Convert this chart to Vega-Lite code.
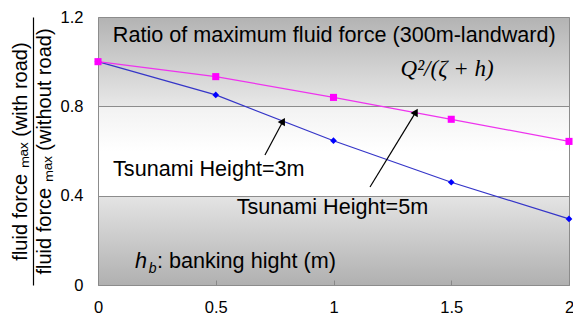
{
  "$schema": "https://vega.github.io/schema/vega-lite/v6.json",
  "width": 471,
  "height": 268,
  "autosize": {"type": "none"},
  "padding": {"left": 98, "top": 17, "right": 4, "bottom": 37},
  "background": "white",
  "config": {
    "font": "Liberation Sans",
    "view": {
      "stroke": "#8c8c8c",
      "strokeWidth": 1,
      "fill": {
        "gradient": "linear", "x1": 0, "y1": 0, "x2": 0, "y2": 1,
        "stops": [
          {"offset": 0, "color": "#b3b3b3"},
          {"offset": 0.333, "color": "#e8e8e8"},
          {"offset": 0.334, "color": "#f2f2f2"},
          {"offset": 0.5, "color": "#ffffff"},
          {"offset": 0.666, "color": "#ffffff"},
          {"offset": 0.667, "color": "#e4e4e4"},
          {"offset": 1, "color": "#b0b0b0"}
        ]
      }
    }
  },
  "datasets": {
    "series": [
      {"h": 0, "ratio": 1.0, "series": "3m"},
      {"h": 0.5, "ratio": 0.851, "series": "3m"},
      {"h": 1, "ratio": 0.646, "series": "3m"},
      {"h": 1.5, "ratio": 0.46, "series": "3m"},
      {"h": 2, "ratio": 0.296, "series": "3m"},
      {"h": 0, "ratio": 1.0, "series": "5m"},
      {"h": 0.5, "ratio": 0.933, "series": "5m"},
      {"h": 1, "ratio": 0.84, "series": "5m"},
      {"h": 1.5, "ratio": 0.742, "series": "5m"},
      {"h": 2, "ratio": 0.643, "series": "5m"}
    ],
    "notes": [
      {"x": 0.063, "y": 1.089, "text": "Ratio of maximum fluid force (300m-landward)", "kind": "sans"},
      {"x": 0.064, "y": 0.488, "text": "Tsunami Height=3m", "kind": "sans"},
      {"x": 0.589, "y": 0.317, "text": "Tsunami Height=5m", "kind": "sans"},
      {"x": 0.2505, "y": 0.076, "text": ": banking hight (m)", "kind": "sans"},
      {"x": 0.157, "y": 0.076, "text": "h", "kind": "italic"},
      {"x": 0.2156, "y": 0.054, "text": "b", "kind": "sub"},
      {"x": 1.285, "y": 0.936, "text": "Q²/(ζ + h)", "kind": "formula"}
    ],
    "arrows": [
      {"x0": 0.709, "y0": 0.582, "x1": 0.786, "y1": 0.734},
      {"x0": 1.155, "y0": 0.439, "x1": 1.35, "y1": 0.775}
    ]
  },
  "layer": [
    {
      "layer": [
        {
          "data": {"name": "series"},
          "transform": [{"filter": "datum.series == '3m'"}],
          "mark": {"type": "line", "color": "#3535c8", "strokeWidth": 1.2},
          "encoding": {
            "x": {
              "field": "h", "type": "quantitative",
              "scale": {"domain": [0, 2], "nice": false},
              "axis": {
                "values": [0, 0.5, 1, 1.5, 2],
                "format": "~g",
                "title": null, "domain": false, "grid": false,
                "ticks": true, "tickSize": -5, "tickColor": "#888888",
                "labelFontSize": 16.5, "labelColor": "black", "labelPadding": 19,
                "labelFlush": false, "labelOverlap": false
              }
            },
            "y": {
              "field": "ratio", "type": "quantitative",
              "scale": {"domain": [0, 1.2], "nice": false},
              "axis": {
                "values": [0, 0.4, 0.8, 1.2],
                "format": "~g",
                "domain": false, "ticks": false, "tickSize": 0,
                "grid": true, "gridColor": "#8c8c8c", "gridWidth": 1,
                "labelFontSize": 16.5, "labelColor": "black", "labelPadding": 15,
                "labelFlush": false, "labelOverlap": false,
                "title": "fluid force ₘₐₓ (without road)",
                "titleFontSize": 20, "titleFontWeight": "normal", "titleColor": "black",
                "titlePadding": 6
              }
            }
          }
        },
        {
          "data": {"name": "series"},
          "transform": [{"filter": "datum.series == '3m'"}],
          "mark": {"type": "point", "shape": "diamond", "filled": true, "color": "#0000ff", "size": 45, "opacity": 1},
          "encoding": {
            "x": {"field": "h", "type": "quantitative"},
            "y": {"field": "ratio", "type": "quantitative"}
          }
        },
        {
          "data": {"name": "series"},
          "transform": [{"filter": "datum.series == '5m'"}],
          "mark": {"type": "line", "color": "#ee33ee", "strokeWidth": 1.2},
          "encoding": {
            "x": {"field": "h", "type": "quantitative"},
            "y": {"field": "ratio", "type": "quantitative"}
          }
        },
        {
          "data": {"name": "series"},
          "transform": [{"filter": "datum.series == '5m'"}],
          "mark": {"type": "point", "shape": "square", "filled": true, "color": "#ff00ff", "size": 50, "opacity": 1},
          "encoding": {
            "x": {"field": "h", "type": "quantitative"},
            "y": {"field": "ratio", "type": "quantitative"}
          }
        },
        {
          "data": {"name": "arrows"},
          "mark": {"type": "rule", "color": "black", "strokeWidth": 1.2},
          "encoding": {
            "x": {"field": "x0", "type": "quantitative"},
            "y": {"field": "y0", "type": "quantitative"},
            "x2": {"field": "x1"},
            "y2": {"field": "y1"}
          }
        },
        {
          "data": {"name": "arrows"},
          "mark": {"type": "point", "shape": "triangle-up", "filled": true, "color": "black", "size": 70, "angle": 30, "opacity": 1},
          "encoding": {
            "x": {"field": "x1", "type": "quantitative"},
            "y": {"field": "y1", "type": "quantitative"}
          }
        },
        {
          "data": {"name": "notes"},
          "transform": [{"filter": "datum.kind == 'sans'"}],
          "mark": {"type": "text", "align": "left", "baseline": "alphabetic", "fontSize": 21.6, "color": "black"},
          "encoding": {
            "x": {"field": "x", "type": "quantitative"},
            "y": {"field": "y", "type": "quantitative"},
            "text": {"field": "text"}
          }
        },
        {
          "data": {"name": "notes"},
          "transform": [{"filter": "datum.kind == 'italic'"}],
          "mark": {"type": "text", "align": "left", "baseline": "alphabetic", "fontSize": 21.6, "fontStyle": "italic", "color": "black"},
          "encoding": {
            "x": {"field": "x", "type": "quantitative"},
            "y": {"field": "y", "type": "quantitative"},
            "text": {"field": "text"}
          }
        },
        {
          "data": {"name": "notes"},
          "transform": [{"filter": "datum.kind == 'sub'"}],
          "mark": {"type": "text", "align": "left", "baseline": "alphabetic", "fontSize": 14, "fontStyle": "italic", "color": "black"},
          "encoding": {
            "x": {"field": "x", "type": "quantitative"},
            "y": {"field": "y", "type": "quantitative"},
            "text": {"field": "text"}
          }
        },
        {
          "data": {"name": "notes"},
          "transform": [{"filter": "datum.kind == 'formula'"}],
          "mark": {"type": "text", "align": "left", "baseline": "alphabetic", "fontSize": 23, "font": "Liberation Serif", "fontStyle": "italic", "color": "black"},
          "encoding": {
            "x": {"field": "x", "type": "quantitative"},
            "y": {"field": "y", "type": "quantitative"},
            "text": {"field": "text"}
          }
        }
      ]
    },
    {
      "data": {"name": "series"},
      "mark": {"type": "point", "opacity": 0},
      "encoding": {
        "x": {"field": "h", "type": "quantitative"},
        "y": {
          "field": "ratio", "type": "quantitative",
          "scale": {"domain": [0, 1.2], "nice": false},
          "axis": {
            "orient": "left", "offset": 65,
            "domain": true, "domainColor": "black", "domainWidth": 1.2,
            "labels": false, "ticks": false, "grid": false,
            "title": "fluid force ₘₐₓ (with road)",
            "titleFontSize": 20, "titleFontWeight": "normal", "titleColor": "black",
            "titlePadding": 3
          }
        }
      }
    }
  ],
  "resolve": {"scale": {"y": "independent"}, "axis": {"y": "independent"}}
}
